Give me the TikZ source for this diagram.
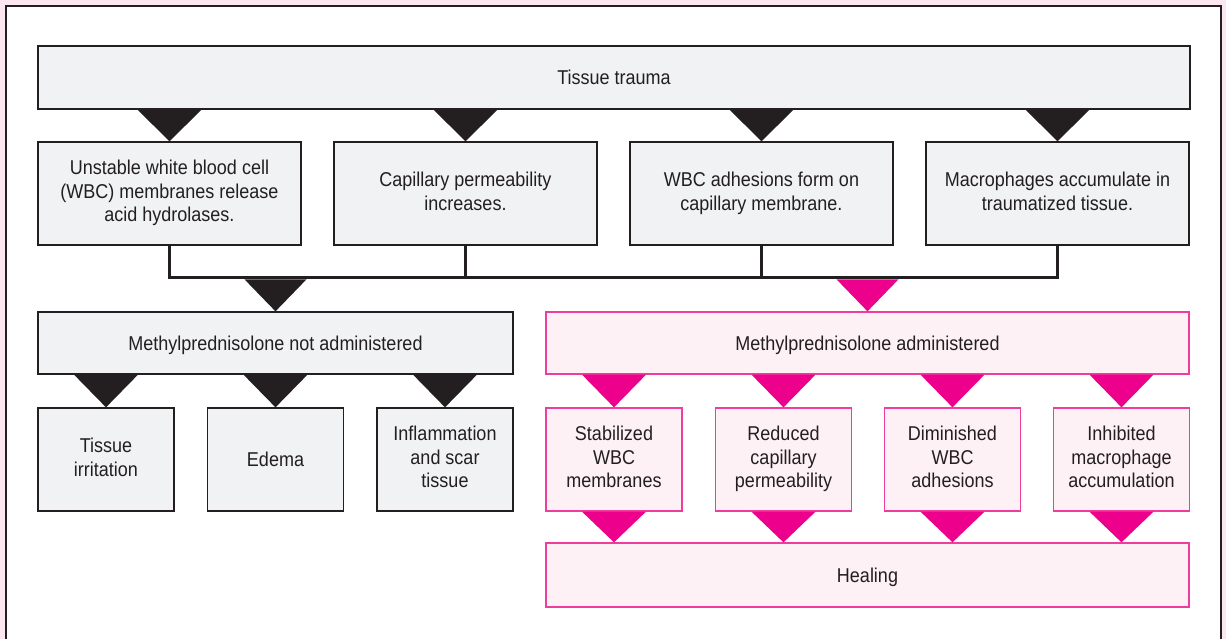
\documentclass[tikz,border=0pt]{standalone}
\usepackage{fontspec}
\setmainfont{Liberation Sans}[FakeStretch=0.9]
\usetikzlibrary{calc}
\definecolor{bgpink}{HTML}{FCE7F0}
\definecolor{ink}{HTML}{231F20}
\definecolor{grayfill}{HTML}{F1F2F3}
\definecolor{magenta}{HTML}{EC008C}
\definecolor{pinkline}{HTML}{EE3D9C}
\definecolor{pinkfill}{HTML}{FDF1F5}
\newcommand\mystrut{\rule[-4.75pt]{0pt}{23.5pt}}
\tikzset{
  box/.style={draw=ink, fill=grayfill, line width=1.3pt, inner sep=0pt, align=center,
    text=ink, font=\fontsize{20}{23.5}\selectfont,
    execute at begin node=\mystrut, execute at end node=\mystrut},
  pbox/.style={box, draw=pinkline, fill=pinkfill},
  blacktri/.style={fill=ink, draw=none},
  pinktri/.style={fill=magenta, draw=none},
  bracket/.style={draw=ink, line width=2.2pt},
}
\begin{document}
\begin{tikzpicture}[x=1pt, y=-1pt]
\useasboundingbox (0,0) rectangle (1226,639);
\fill[bgpink] (0,0) rectangle (1226,639);
\draw[ink, fill=white, line width=1.3pt] (6,6) rectangle (1221,650);

% top
\node[box, minimum width=1152, minimum height=63] (trauma) at (614,77.5) {Tissue trauma};

% row 2
\foreach \n/\x/\t in {u1/169.5/{Unstable white blood cell\\(WBC) membranes release\\acid hydrolases.},
                       u2/465.5/{Capillary permeability\\increases.},
                       u3/761.5/{WBC adhesions form on\\capillary membrane.},
                       u4/1057.5/{Macrophages accumulate in\\traumatized tissue.}}
  \node[box, minimum width=263, minimum height=103] (\n) at (\x,193.5) {\t};

% branch boxes
\node[box, minimum width=475, minimum height=62] (notadm) at (275.5,343) {Methylprednisolone not administered};
\node[pbox, minimum width=643, minimum height=62] (adm) at (867.5,343) {Methylprednisolone administered};

% bottom left
\foreach \n/\x/\t in {b1/106/{Tissue\\irritation}, b2/275.5/{Edema}, b3/445/{Inflammation\\and scar\\tissue}}
  \node[box, minimum width=136, minimum height=103] (\n) at (\x,459.5) {\t};

% bottom right
\foreach \n/\x/\t in {p1/614/{Stabilized\\WBC\\membranes}, p2/783.5/{Reduced\\capillary\\permeability},
                      p3/952.5/{Diminished\\WBC\\adhesions}, p4/1121.5/{Inhibited\\macrophage\\accumulation}}
  \node[pbox, minimum width=136, minimum height=103] (\n) at (\x,459.5) {\t};

\node[pbox, minimum width=643, minimum height=64] (heal) at (867.5,575) {Healing};

% triangles from top box
\foreach \n in {u1,u2,u3,u4}
  \fill[blacktri] ($(\n.north |- trauma.south)+(-32,0)$) -- ($(\n.north |- trauma.south)+(32,0)$) -- (\n.north) -- cycle;

% bracket
\coordinate (bar) at (0,277.5);
\draw[bracket] (u1.south) |- (u4.south |- bar) -- (u4.south);
\draw[bracket] (u2.south) -- (u2.south |- bar);
\draw[bracket] (u3.south) -- (u3.south |- bar);

% triangles from bracket
\fill[blacktri] ($(notadm.north)+(-31,-32)$) -- ($(notadm.north)+(31,-32)$) -- (notadm.north) -- cycle;
\fill[pinktri] ($(adm.north)+(-31,-32)$) -- ($(adm.north)+(31,-32)$) -- (adm.north) -- cycle;

% triangles under branch boxes
\foreach \n in {b1,b2,b3}
  \fill[blacktri] ($(\n.north |- notadm.south)+(-32,0)$) -- ($(\n.north |- notadm.south)+(32,0)$) -- (\n.north) -- cycle;
\foreach \n in {p1,p2,p3,p4}
  \fill[pinktri] ($(\n.north |- adm.south)+(-32,0)$) -- ($(\n.north |- adm.south)+(32,0)$) -- (\n.north) -- cycle;

% triangles to healing
\foreach \n in {p1,p2,p3,p4}
  \fill[pinktri] ($(\n.south)+(-32,0)$) -- ($(\n.south)+(32,0)$) -- (\n.south |- heal.north) -- cycle;
\end{tikzpicture}
\end{document}
